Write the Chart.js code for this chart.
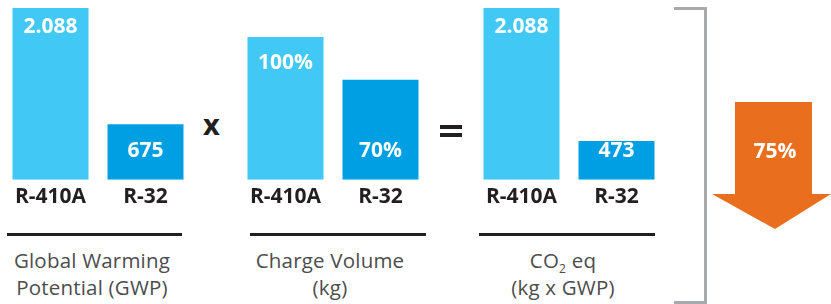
<!DOCTYPE html>
<html>
<head>
<meta charset="utf-8">
<script src="https://cdn.jsdelivr.net/npm/chart.js@4"></script>
<style>
    body { margin: 0; background: #fff; width: 831px; height: 304px; overflow: hidden; position: relative; font-family: "Open Sans", sans-serif; }
    canvas { position: absolute; top: 0; }
    .title { position: absolute; top: 247px; width: 200px; text-align: center; color: #4d4d4d; font-size: 20.5px; line-height: 27px; font-weight: 400; letter-spacing: 0.2px; }
    .sub { position: relative; top: 5px; font-size: 12px; line-height: 0; }
    .rule { position: absolute; top: 233px; height: 3px; background: #231f20; }
    .op { position: absolute; color: #231f20; font-weight: 700; }
    .eqbar { position: absolute; left: 440px; width: 22px; height: 3.5px; background: #231f20; }
    .bracket { position: absolute; left: 674px; top: 7px; width: 30px; height: 291px; border: 3px solid #a7a9ac; border-left: none; }
    #arrow { position: absolute; left: 0; top: 0; }
    .pct { position: absolute; left: 735px; top: 136px; width: 80px; text-align: center; color: #fff; font-weight: 700; font-size: 21px; }
</style>
</head>
<body>
<canvas id="gwpChart" width="190" height="215" style="left:2.5px"></canvas>
<canvas id="chargeChart" width="190" height="215" style="left:237.5px"></canvas>
<canvas id="co2Chart" width="190" height="215" style="left:473.5px"></canvas>

<div class="rule" style="left:7px;width:175px"></div>
<div class="rule" style="left:250px;width:176px"></div>
<div class="rule" style="left:479px;width:176px"></div>

<div class="title" style="left:-8px">Global Warming<br>Potential (GWP)</div>
<div class="title" style="left:230px">Charge Volume<br>(kg)</div>
<div class="title" style="left:463px">CO<span class="sub">2</span> eq<br>(kg x GWP)</div>

<div class="op" style="left:203px;top:104px;font-size:29px">x</div>
<div class="eqbar" style="top:125px"></div>
<div class="eqbar" style="top:133px"></div>

<div class="bracket"></div>
<svg id="arrow" width="831" height="304">
    <polygon points="735,102 812,102 812,194 831,194 775,229 712,194 735,194" fill="#e96f1e"></polygon>
</svg>
<div class="pct" id="reduction"></div>

<script>
// Chart data
const categories = ["R-410A", "R-32"];
const gwpValues = [2088, 675];
const chargeValues = [100, 70];
const co2Values = [2088, 473];
const reductionLabel = "75%";

const barColors = ["#42c8f5", "#009fe3"];

// ✅ Draw value labels inside bars
const valueLabelPlugin = {
    id: "valueLabels",
    afterDatasetsDraw(chart, args, opts) {
        const ctx = chart.ctx;
        const meta = chart.getDatasetMeta(0);
        const data = chart.data.datasets[0].data;
        ctx.save();
        ctx.fillStyle = "#fff";
        ctx.font = "700 21px 'Open Sans'";
        ctx.textAlign = "center";
        ctx.textBaseline = "middle";
        meta.data.forEach((bar, i) => {
            const y = i === 0 ? bar.y + opts.topOffset : bar.base - 29;
            ctx.fillText(opts.format(data[i]), bar.x, y);
        });
        ctx.restore();
    }
};

function makeChart(id, values, format, topPad, topOffset) {
    return new Chart(document.getElementById(id), {
        type: "bar",
        data: {
            labels: categories,
            datasets: [{
                data: values,
                backgroundColor: barColors,
                borderWidth: 0,
                categoryPercentage: 1,
                barPercentage: 0.8
            }]
        },
        options: {
            responsive: false,
            animation: false,
            layout: { padding: { top: topPad, left: 0, right: 0, bottom: 0 } },
            plugins: {
                legend: { display: false },
                tooltip: { enabled: false },
                valueLabels: { format: format, topOffset: topOffset }
            },
            scales: {
                x: {
                    grid: { display: false, drawTicks: false },
                    border: { display: false },
                    ticks: { color: "#231f20", padding: 5, font: { family: "Open Sans", size: 21, weight: "700" } }
                },
                y: { display: false, min: 0, max: Math.max(...values) }
            }
        },
        plugins: [valueLabelPlugin]
    });
}

document.addEventListener("DOMContentLoaded", function () {
    const thousands = n => n.toLocaleString("de-DE");
    makeChart("gwpChart", gwpValues, thousands, 8, 19);
    makeChart("chargeChart", chargeValues, n => n + "%", 37, 26);
    makeChart("co2Chart", co2Values, thousands, 8, 19);
    document.getElementById("reduction").textContent = reductionLabel;
});
</script>
</body>
</html>
